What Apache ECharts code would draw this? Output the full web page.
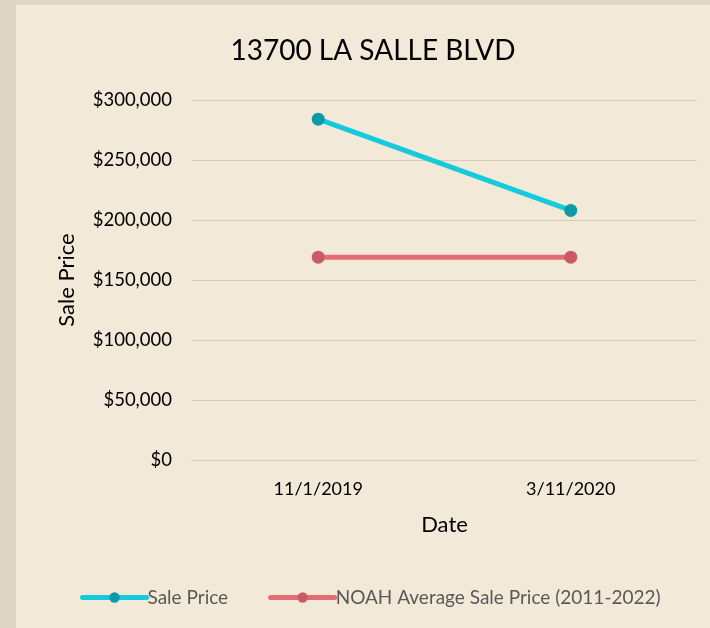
<!DOCTYPE html>
<html>
<head>
<meta charset="utf-8">
<script src="https://cdn.jsdelivr.net/npm/echarts@6/dist/echarts.min.js"></script>
<style>
  html, body { margin: 0; padding: 0; background: #ded7c7; }
  #chart { position: absolute; left: 16px; top: 5px; width: 694px; height: 623px; background: #f2e9d9; }
</style>
</head>
<body>
<div id="chart"></div>
<script>
// values
const dates = ['11/1/2019', '3/11/2020']
const salePrice = [284000, 208000]
const noahAverage = [169000, 169000]
const yTicks = [0, 50000, 100000, 150000, 200000, 250000, 300000]

const font = 'Lato, "Noto Sans", sans-serif'
const fmt = v => '$' + v.toLocaleString('en-US')

const dom = echarts.init(document.getElementById('chart'))
const option = {
  backgroundColor: '#f2e9d9',
  textStyle: { fontFamily: font },
  title: {
    text: '13700 LA SALLE BLVD',
    left: 352,
    top: 27,
    textAlign: 'center',
    textStyle: { fontFamily: font, fontSize: 28, fontWeight: 'normal', color: '#000' }
  },
  legend: {
    bottom: 16,
    left: 59,
    itemWidth: 64,
    itemHeight: 13,
    itemGap: 40,
    lineStyle: { width: 5, cap: 'round' },
    textStyle: { fontFamily: font, fontSize: 19, color: '#595959', padding: [0, 0, 0, -4] },
    data: ['Sale Price', 'NOAH Average Sale Price (2011-2022)']
  },
  grid: { left: 176, right: 13, top: 95, bottom: 168 },
  xAxis: {
    type: 'category',
    data: dates,
    name: 'Date',
    nameLocation: 'middle',
    nameGap: 54,
    nameTextStyle: { fontFamily: font, fontSize: 22, color: '#000' },
    axisLine: { show: true, lineStyle: { color: '#d9ccb5', width: 1 } },
    axisTick: { show: false },
    axisLabel: { fontFamily: font, fontSize: 18, color: '#000', margin: 20 }
  },
  yAxis: {
    type: 'value',
    min: yTicks[0],
    max: yTicks[yTicks.length - 1],
    interval: 50000,
    name: 'Sale Price',
    nameLocation: 'middle',
    nameGap: 114,
    nameTextStyle: { fontFamily: font, fontSize: 22, color: '#000' },
    axisLine: { show: false },
    axisTick: { show: false },
    splitLine: { lineStyle: { color: '#d9ccb5', width: 1 } },
    axisLabel: { fontFamily: font, fontSize: 18.5, color: '#000', margin: 20, formatter: fmt }
  },
  series: [
    {
      name: 'Sale Price',
      type: 'line',
      data: salePrice,
      symbol: 'circle',
      symbolSize: 13,
      lineStyle: { color: '#14cadc', width: 5 },
      itemStyle: { color: '#0c9aa6' }
    },
    {
      name: 'NOAH Average Sale Price (2011-2022)',
      type: 'line',
      data: noahAverage,
      symbol: 'circle',
      symbolSize: 13,
      lineStyle: { color: '#e56b75', width: 5 },
      itemStyle: { color: '#c95b66' }
    }
  ]
}
dom.setOption(option)
window.addEventListener('resize', () => dom.resize())
</script>
</body>
</html>
